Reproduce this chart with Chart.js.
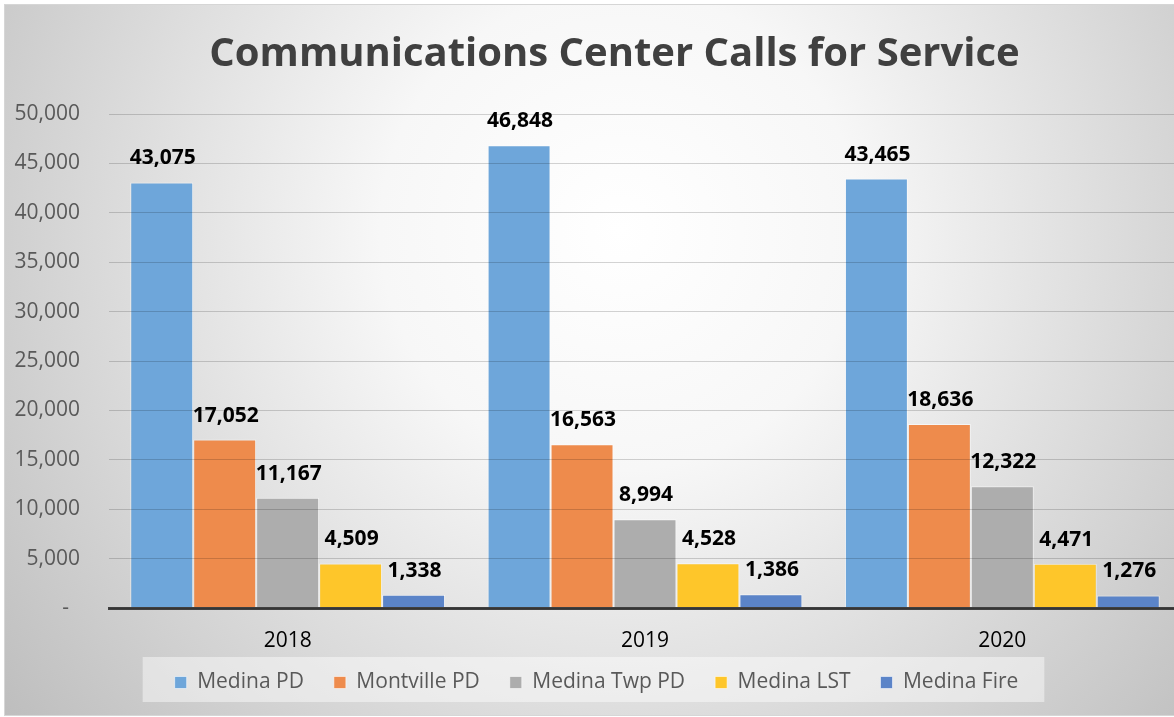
<!DOCTYPE html>
<html>
<head>
<meta charset="utf-8">
<script src="https://cdn.jsdelivr.net/npm/chart.js@4/dist/chart.umd.min.js"></script>
<style>
  html, body { margin: 0; padding: 0; background: #ffffff; }
  #wrap { width: 1174px; height: 717px; overflow: hidden; position: relative; }
  canvas { display: block; }
</style>
</head>
<body>
<div id="wrap"><canvas id="c" width="1190" height="717"></canvas></div>
<script>
const titleText = 'Communications Center Calls for Service';
const years = ['2018', '2019', '2020'];
const seriesNames = ['Medina PD', 'Montville PD', 'Medina Twp PD', 'Medina LST', 'Medina Fire'];
const medinaPD = [43075, 46848, 43465];
const montvillePD = [17052, 16563, 18636];
const medinaTwpPD = [11167, 8994, 12322];
const medinaLST = [4509, 4528, 4471];
const medinaFire = [1338, 1386, 1276];
const yTicks = [0, 5000, 10000, 15000, 20000, 25000, 30000, 35000, 40000, 45000, 50000];
const colors = ['#6EA6DA', '#EE8B4C', '#ADADAD', '#FEC62A', '#5B84C8'];

const seriesValues = [medinaPD, montvillePD, medinaTwpPD, medinaLST, medinaFire];
const fmt = v => v.toLocaleString('en-US');
const FONT = '"Open Sans", "Noto Sans", sans-serif';

const bgPlugin = {
  id: 'bg',
  afterLayout(chart) {
    const lg = chart.legend;
    if (!lg) return;
    const dy = -18, dx = 6;
    lg.top += dy; lg.bottom += dy; lg.left += dx; lg.right += dx;
    (lg.legendHitBoxes || []).forEach(h => { h.top += dy; h.left += dx; });
  },
  beforeDraw(chart) {
    const ctx = chart.ctx, W = chart.width, H = chart.height;
    ctx.save();
    ctx.fillStyle = '#ffffff';
    ctx.fillRect(0, 0, W, H);
    const g = ctx.createRadialGradient(620, 230, 0, 620, 230, 800);
    g.addColorStop(0, '#ffffff');
    g.addColorStop(0.3, '#f7f7f7');
    g.addColorStop(1, '#bcbcbc');
    ctx.fillStyle = g;
    ctx.fillRect(4, 4, W - 4, 712);
    ctx.strokeStyle = '#d6d6d6';
    ctx.lineWidth = 1;
    ctx.strokeRect(4.5, 4.5, W, 711);
    const lg = chart.legend;
    if (lg && lg.legendHitBoxes && lg.legendHitBoxes.length) {
      const hb = lg.legendHitBoxes;
      const l = Math.min(...hb.map(h => h.left)) - 32;
      const r = Math.max(...hb.map(h => h.left + h.width)) + 26;
      ctx.fillStyle = 'rgba(255,255,255,0.45)';
      ctx.fillRect(l, 657, r - l, 45);
    }
    ctx.fillStyle = '#404040';
    ctx.font = 'bold 40px ' + FONT;
    ctx.textAlign = 'center';
    ctx.textBaseline = 'middle';
    ctx.fillText(titleText, 614.5, 55);
    ctx.restore();
  }
};

const labelPlugin = {
  id: 'barLabels',
  afterDraw(chart) {
    const ctx = chart.ctx;
    ctx.save();
    ctx.fillStyle = '#000000';
    ctx.font = 'bold 21px ' + FONT;
    ctx.textAlign = 'center';
    ctx.textBaseline = 'alphabetic';
    chart.data.datasets.forEach((ds, i) => {
      const meta = chart.getDatasetMeta(i);
      meta.data.forEach((el, j) => {
        ctx.fillText(fmt(ds.data[j]), el.x + 1, el.y - 18);
      });
    });
    ctx.restore();
  }
};

new Chart(document.getElementById('c'), {
  type: 'bar',
  data: {
    labels: years,
    datasets: seriesNames.map((n, i) => ({
      label: n,
      data: seriesValues[i],
      backgroundColor: colors[i],
      borderColor: 'rgba(255,255,255,0.55)',
      borderWidth: 1,
      categoryPercentage: 0.881,
      barPercentage: 1.0
    }))
  },
  options: {
    responsive: false,
    animation: false,
    devicePixelRatio: 1,
    layout: { padding: { top: 114, left: 0, right: 9, bottom: 0 } },
    plugins: {
      title: { display: false },
      tooltip: { enabled: false },
      legend: {
        position: 'bottom',
        maxHeight: 57,
        labels: {
          boxWidth: 12,
          boxHeight: 12,
          padding: 30,
          color: '#595959',
          font: { family: FONT, size: 21 }
        }
      }
    },
    scales: {
      x: {
        grid: { display: false, drawTicks: false },
        border: { display: true, color: '#404040', width: 3, z: 1 },
        ticks: { color: '#000000', padding: 20, font: { family: FONT, size: 21 } },
        afterFit(s) { s.height = 52; }
      },
      y: {
        min: 0,
        max: 50000,
        afterBuildTicks(s) { s.ticks = yTicks.map(v => ({ value: v })); },
        grid: { color: 'rgba(0,0,0,0.17)', lineWidth: 1, drawTicks: false, z: 1 },
        border: { display: false },
        ticks: {
          color: '#595959',
          padding: 29,
          font: { family: FONT, size: 21 },
          callback: v => v === 0 ? '-  ' : fmt(v)
        },
        afterFit(s) { s.width = 109; }
      }
    }
  },
  plugins: [bgPlugin, labelPlugin]
});
</script>
</body>
</html>
